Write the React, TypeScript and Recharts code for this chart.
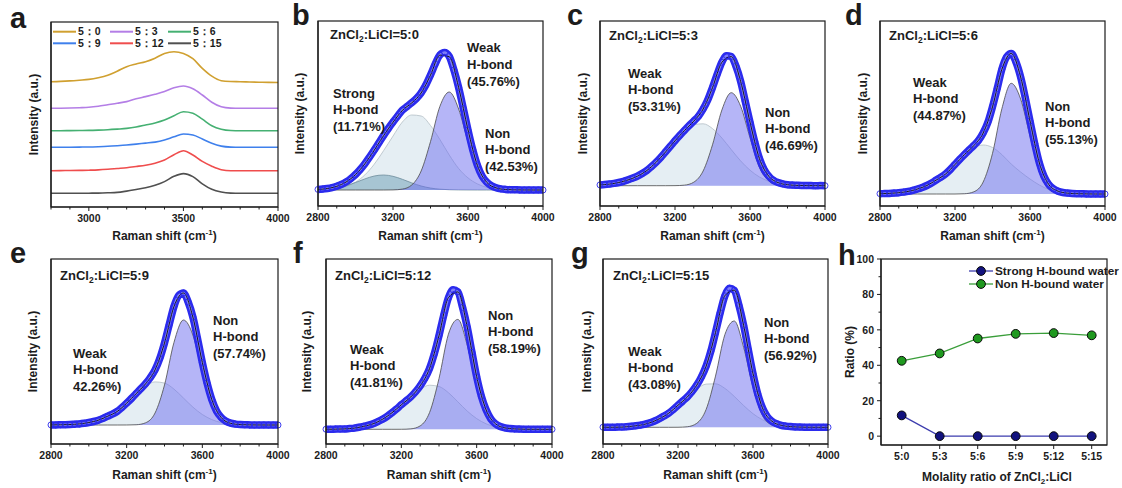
import React from "react";
import { ComposedChart, LineChart, Line, Area, XAxis, YAxis } from "recharts";

const FONT = '"Liberation Sans", Arial, Helvetica, sans-serif';
const INK = "#1c1c1c";
const AXIS = { stroke: "#1c1c1c", strokeWidth: 1.2 };

// Raman shift grids (cm-1)
const SHIFT_50 = [
  2800, 2850, 2900, 2950, 3000, 3050, 3100, 3150, 3200, 3250, 3300, 3350, 3400,
  3450, 3500, 3550, 3600, 3650, 3700, 3750, 3800, 3850, 3900, 3950, 4000,
];
const SHIFT_25 = [
  2800, 2825, 2850, 2875, 2900, 2925, 2950, 2975, 3000, 3025, 3050, 3075, 3100,
  3125, 3150, 3175, 3200, 3225, 3250, 3275, 3300, 3325, 3350, 3375, 3400, 3425,
  3450, 3475, 3500, 3525, 3550, 3575, 3600, 3625, 3650, 3675, 3700, 3725, 3750,
  3775, 3800, 3825, 3850, 3875, 3900, 3925, 3950, 3975, 4000,
];
const SHIFT_TICKS = [2800, 2900, 3000, 3100, 3200, 3300, 3400, 3500, 3600, 3700, 3800, 3900, 4000];
const MAJOR_A = [3000, 3500, 4000];
const MAJOR_FIT = [2800, 3200, 3600, 4000];

// ratio labels and band shares (%)
const RATIO_LABELS = ["5:0", "5:3", "5:6", "5:9", "5:12", "5:15"];
const LEGEND_A = ["5：0", "5：3", "5：6", "5：9", "5：12", "5：15"];
const STRONG_PCT = [11.71, 0, 0, 0, 0, 0];
const WEAK_PCT = [45.76, 53.31, 44.87, 42.26, 41.81, 43.08];
const NON_PCT = [42.53, 46.69, 55.13, 57.74, 58.19, 56.92];
const RATIO_TICKS = [0, 10, 20, 30, 40, 50, 60, 70, 80, 90, 100];
const RATIO_MAJOR = [0, 20, 40, 60, 80, 100];

// (a) stacked spectra, height above each trace's own baseline
const a0 = [0, 0.3, 0.8, 1.5, 2.3, 4, 6.5, 10.5, 15, 17.7, 20, 23.5, 28.3, 30, 28.3, 23, 13.3, 5.5, 1, 0.2, 0, -0.3, -0.5, -0.7, -0.8];
const a3 = [0, 0.1, 0.3, 0.6, 1, 2, 3.5, 5, 6.7, 9.5, 11.7, 14, 16.7, 20.5, 22.3, 19.5, 13.3, 6, 1.5, 0.2, 0, 0, 0, 0, 0];
const a6 = [0, 0, 0.1, 0.2, 0.3, 0.6, 1, 1.6, 2.3, 3.7, 5.7, 7.8, 10.7, 15, 19, 17.5, 11.5, 5, 1.5, 0.2, 0, 0, 0, 0, 0];
const a9 = [0, 0, 0.1, 0.2, 0.3, 0.6, 1, 1.6, 2.3, 3.2, 4.2, 5.2, 7.3, 10.5, 13.3, 12.3, 8.3, 4, 1.2, 0.2, 0, 0, 0, 0, 0];
const a12 = [0, 0.1, 0.2, 0.3, 0.5, 0.8, 1.4, 2.2, 3, 4.2, 5.5, 7.5, 10.7, 16, 20, 15.7, 9.3, 4.5, 1, 0, 0, 0, 0, 0, 0];
const a15 = [0, 0, 0, 0, 0.1, 0.2, 0.5, 0.9, 2.2, 3.8, 5.5, 8, 11.7, 17, 19.7, 16.7, 9.5, 4, 1.3, 0.2, 0, 0, 0, 0, 0];
const A_SPECTRA = [a0, a3, a6, a9, a12, a15];
const A_OFFSETS = [125.3, 98.7, 76.3, 59.7, 36.3, 13.7];
const A_COLORS = ["#d0a030", "#b47ee6", "#45b072", "#3f80ec", "#ef4d4d", "#505050"];

// (b)-(g) measured spectra (every 25 cm-1) and fitted bands (every 50 cm-1)
const bObs = [0.6, 0.9, 1.5, 2.4, 3.8, 5.6, 8.1, 11.4, 15.5, 20.5, 26.3, 33, 40, 47.3, 54.6, 61.5, 67.9, 74, 79.8, 83.5, 87.3, 91.5, 97.2, 105, 115, 126, 135, 137.5, 133.5, 120, 102.5, 81.5, 60, 40.5, 24.8, 14, 7.8, 4.2, 2.2, 1.1, 0.6, 0.3, 0.2, 0.1, 0, 0.1, 0, 0.1, 0];
const bStrong = [0.32, 0.89, 2.13, 4.33, 7.5, 11.1, 14, 15, 13.7, 10.7, 7.1, 4, 1.94, 0.8, 0.28, 0.08, 0.02, 0, 0, 0, 0, 0, 0, 0, 0];
const bWeak = [0.2, 0.58, 1.55, 3.7, 7.9, 15.1, 25.8, 39.4, 53.9, 68, 75, 74, 64.5, 50.5, 35, 21.5, 12.1, 6.1, 2.7, 1.1, 0.4, 0.13, 0.04, 0, 0];
const bNon = [0, 0, 0, 0, 0, 0, 0, 0, 0.1, 0.9, 5, 19, 48.4, 83.6, 98, 81, 48, 18.5, 5, 1, 0.1, 0, 0, 0, 0];

const cObs = [0.8, 1.2, 1.7, 2.3, 3.2, 4.4, 5.9, 7.6, 9.6, 12.2, 15.3, 19.2, 23.6, 28.5, 33.9, 39.4, 45, 50.2, 55.2, 60, 64.6, 69.5, 76.7, 86, 98.2, 111.5, 123.5, 130, 129.2, 119.5, 104.5, 84, 63.5, 44, 27.4, 16.3, 9.6, 5.4, 3.1, 1.8, 1.0, 0.6, 0.4, 0.2, 0.1, 0.1, 0, 0.1, 0];
const cWeak = [0.8, 1.6, 3.2, 5.8, 9.5, 15.2, 23.5, 33.8, 44.8, 54.5, 61, 61.9, 57.1, 47.7, 36.1, 24.8, 15.5, 8.75, 4.48, 2.09, 0.88, 0.34, 0.12, 0.04, 0];
const cNon = [0, 0, 0, 0, 0, 0, 0, 0, 0.06, 0.55, 3.5, 14.7, 40.9, 75.7, 93, 79.5, 48, 18.5, 5, 1, 0.1, 0, 0, 0, 0];

const dObs = [0.3, 0.45, 0.6, 0.9, 1.3, 1.9, 2.6, 3.7, 5, 6.6, 8.5, 11, 14, 16.8, 20.2, 24.5, 29.6, 34.6, 39.4, 44, 48.5, 53.5, 61, 71.5, 87.3, 105.5, 124.8, 137, 140.5, 132, 117, 96, 73, 50.5, 31, 17.5, 9.6, 5.2, 2.8, 1.5, 0.9, 0.5, 0.3, 0.2, 0.1, 0, 0.1, 0, 0];
const dWeak = [0.3, 0.6, 1.3, 2.6, 5, 8.5, 14, 20, 29.5, 39.1, 46.2, 49, 46.5, 39.4, 29.9, 22, 15, 9, 4.5, 2, 0.8, 0.3, 0.1, 0, 0];
const dNon = [0, 0, 0, 0, 0, 0, 0, 0, 0, 0.24, 2.16, 11.9, 40.6, 85.3, 110.7, 95, 58, 22, 5, 0.8, 0.05, 0, 0, 0, 0];

const eObs = [0.1, 0.1, 0.2, 0.3, 0.5, 0.8, 1.1, 1.7, 2.5, 3.5, 4.8, 6.6, 8.8, 11, 13.6, 17.5, 21.9, 26.5, 31.5, 36.3, 41.3, 47.5, 55.2, 66.5, 82, 100.5, 118.5, 129.5, 132, 123, 108, 86, 62.5, 42, 25.5, 14, 7.5, 3.8, 1.8, 0.9, 0.4, 0.2, 0.1, 0, 0, 0.1, 0, 0, 0];
const eWeak = [0.1, 0.2, 0.5, 1.1, 2.5, 4.8, 8.8, 13.5, 21.8, 31.1, 39, 43.1, 41.9, 35.9, 27, 17.9, 10.5, 5.4, 2.43, 0.97, 0.34, 0.1, 0.03, 0, 0];
const eNon = [0, 0, 0, 0, 0, 0, 0, 0, 0.02, 0.25, 2.2, 12, 40, 82.5, 105, 90, 52, 20, 5, 0.7, 0.05, 0, 0, 0, 0];

const fObs = [0.1, 0.1, 0.2, 0.3, 0.4, 0.8, 1.2, 2, 3, 4.1, 5.5, 7.6, 10, 13, 16.5, 20.4, 24.6, 28.4, 32.4, 37.4, 43.5, 51, 61, 75.5, 93.7, 114, 131.5, 139.5, 137.5, 122, 102, 77, 52.5, 33, 19.5, 10.5, 5.5, 2.8, 1.4, 0.7, 0.4, 0.2, 0.1, 0.1, 0, 0, 0.1, 0, 0];
const fWeak = [0.05, 0.15, 0.4, 1.2, 3, 5.5, 10, 16.5, 24.5, 31.9, 40, 44.1, 42.8, 36.6, 27.5, 18.2, 10.7, 5.5, 2.5, 1.0, 0.35, 0.1, 0.03, 0, 0];
const fNon = [0, 0, 0, 0, 0, 0, 0, 0, 0.02, 0.43, 3.4, 16.8, 50.8, 95.1, 109.9, 84, 42, 14, 3, 0.4, 0.05, 0, 0, 0, 0];

const gObs = [0.1, 0.1, 0.1, 0.2, 0.3, 0.6, 1, 1.5, 2.2, 3.2, 4.5, 6.3, 8.6, 11.2, 14.1, 17.8, 22.1, 26.2, 30.5, 35.8, 42.2, 50.5, 61.2, 76, 94.8, 114.5, 131.5, 139, 137, 122, 102, 77.5, 53.5, 33.5, 19.6, 11, 6.2, 3.6, 2, 1.2, 0.7, 0.4, 0.2, 0.1, 0.1, 0, 0, 0.1, 0];
const gWeak = [0.02, 0.06, 0.19, 1, 2.2, 4.5, 8.5, 14, 22, 29.8, 38.1, 43.2, 43.5, 38.9, 30.9, 21.8, 13.6, 7.6, 3.7, 1.64, 0.64, 0.22, 0.07, 0.02, 0];
const gNon = [0, 0, 0, 0, 0, 0, 0, 0, 0.04, 0.56, 4, 17.9, 51.2, 92.7, 106.3, 80, 40, 12, 2.5, 0.4, 0.04, 0, 0, 0, 0];

type Box = { left: number; top: number; width: number; height: number };
type Kind = "strong" | "weak" | "non";
type Note = { x: number; y: number; lines: string[] };

const BAND_STYLE: Record<Kind, { fill: string; fillOpacity: number; stroke: string }> = {
  weak: { fill: "#d3e3eb", fillOpacity: 0.6, stroke: "#b2bec5" },
  strong: { fill: "#5a93ad", fillOpacity: 0.45, stroke: "#6d8c9b" },
  non: { fill: "#6b6bf0", fillOpacity: 0.5, stroke: "#4a4a4a" },
};

const pct = (v: number) => `${v.toFixed(2)}%`;

const FIT_PANELS: {
  letter: string;
  ratio: string;
  box: Box;
  domain: [number, number];
  observed: number[];
  bands: { kind: Kind; values: number[] }[];
  title: [number, number];
  notes: Note[];
}[] = [
  {
    letter: "b", ratio: "5:0", box: { left: 318, top: 21, width: 225, height: 185 }, domain: [-16, 169],
    observed: bObs,
    bands: [{ kind: "weak", values: bWeak }, { kind: "strong", values: bStrong }, { kind: "non", values: bNon }],
    title: [330, 39],
    notes: [
      { x: 333, y: 97.7, lines: ["Strong", "H-bond", `(${pct(STRONG_PCT[0])})`] },
      { x: 467, y: 52.4, lines: ["Weak", "H-bond", `(${pct(WEAK_PCT[0])})`] },
      { x: 485, y: 137.7, lines: ["Non", "H-bond", `(${pct(NON_PCT[0])})`] },
    ],
  },
  {
    letter: "c", ratio: "5:3", box: { left: 600, top: 21, width: 225, height: 185 }, domain: [-20.3, 164.7],
    observed: cObs,
    bands: [{ kind: "weak", values: cWeak }, { kind: "non", values: cNon }],
    title: [609, 39.7],
    notes: [
      { x: 628, y: 77.7, lines: ["Weak", "H-bond", `(${pct(WEAK_PCT[1])})`] },
      { x: 765, y: 116.7, lines: ["Non", "H-bond", `(${pct(NON_PCT[1])})`] },
    ],
  },
  {
    letter: "d", ratio: "5:6", box: { left: 880, top: 21, width: 225, height: 185 }, domain: [-12, 173],
    observed: dObs,
    bands: [{ kind: "weak", values: dWeak }, { kind: "non", values: dNon }],
    title: [889, 39.7],
    notes: [
      { x: 913, y: 86.7, lines: ["Weak", "H-bond", `(${pct(WEAK_PCT[2])})`] },
      { x: 1045, y: 110.7, lines: ["Non", "H-bond", `(${pct(NON_PCT[2])})`] },
    ],
  },
  {
    letter: "e", ratio: "5:9", box: { left: 51, top: 259, width: 227, height: 185 }, domain: [-19, 166],
    observed: eObs,
    bands: [{ kind: "weak", values: eWeak }, { kind: "non", values: eNon }],
    title: [60, 279.7],
    notes: [
      { x: 213, y: 324.7, lines: ["Non", "H-bond", `(${pct(NON_PCT[3])})`] },
      { x: 73, y: 357.7, lines: ["Weak", "H-bond", `${pct(WEAK_PCT[3])})`] },
    ],
  },
  {
    letter: "f", ratio: "5:12", box: { left: 326, top: 259, width: 226, height: 185 }, domain: [-14.7, 170.3],
    observed: fObs,
    bands: [{ kind: "weak", values: fWeak }, { kind: "non", values: fNon }],
    title: [335, 279.7],
    notes: [
      { x: 488, y: 319.7, lines: ["Non", "H-bond", `(${pct(NON_PCT[4])})`] },
      { x: 350, y: 353.7, lines: ["Weak", "H-bond", `(${pct(WEAK_PCT[4])})`] },
    ],
  },
  {
    letter: "g", ratio: "5:15", box: { left: 603, top: 259, width: 225, height: 185 }, domain: [-16.7, 168.3],
    observed: gObs,
    bands: [{ kind: "weak", values: gWeak }, { kind: "non", values: gNon }],
    title: [613, 279.7],
    notes: [
      { x: 764, y: 326.7, lines: ["Non", "H-bond", `(${pct(NON_PCT[5])})`] },
      { x: 628, y: 355.7, lines: ["Weak", "H-bond", `(${pct(WEAK_PCT[5])})`] },
    ],
  },
];

const A_BOX: Box = { left: 51, top: 22, width: 227, height: 185 };
const H_BOX: Box = { left: 881, top: 259, width: 226, height: 186 };

const LETTERS: [string, number, number][] = [
  ["a", 10, 28], ["b", 292, 25], ["c", 567, 25], ["d", 845, 25],
  ["e", 10, 263], ["f", 293, 263], ["g", 571, 263], ["h", 838, 265],
];

const YW = 20;
const XH = 24;
const PAD_R = 16;
const PAD_T = 8;

const bottomTick = (isMajor: (v: any) => boolean) => (p: any) => {
  const v = p.payload.value;
  const major = isMajor(v);
  return (
    <g>
      <line x1={p.x} x2={p.x} y1={p.y} y2={p.y + (major ? 4 : 2.5)} stroke={INK} strokeWidth={1} />
      {major && (
        <text x={p.x} y={p.y + 14.5} textAnchor="middle" fontSize={10.5} fontWeight="bold" fontFamily={FONT} fill={INK}>
          {v}
        </text>
      )}
    </g>
  );
};

const leftTick = (majors: number[]) => (p: any) => {
  const v = p.payload.value;
  const major = majors.includes(v);
  return (
    <g>
      <line x1={p.x - (major ? 4 : 2.5)} x2={p.x} y1={p.y} y2={p.y} stroke={INK} strokeWidth={1} />
      {major && (
        <text x={p.x - 7} y={p.y + 3.8} textAnchor="end" fontSize={10.5} fontWeight="bold" fontFamily={FONT} fill={INK}>
          {v}
        </text>
      )}
    </g>
  );
};

function holder(box: Box, yw: number): React.CSSProperties {
  return { position: "absolute", left: box.left - yw, top: box.top - PAD_T };
}

function StackPanel() {
  const rows = SHIFT_50.map((x, i) => {
    const row: Record<string, number> = { x };
    A_SPECTRA.forEach((s, j) => (row["s" + j] = A_OFFSETS[j] + s[i]));
    return row;
  });
  const box = A_BOX;
  return (
    <div style={holder(box, YW)}>
      <LineChart width={box.width + YW + PAD_R} height={box.height + PAD_T + XH} data={rows} margin={{ top: PAD_T, right: PAD_R, bottom: 0, left: 0 }}>
        <XAxis dataKey="x" type="number" domain={[2800, 4000]} ticks={SHIFT_TICKS} interval={0} height={XH} tickSize={0} tickMargin={0} tickLine={false} axisLine={AXIS} tick={bottomTick((v) => MAJOR_A.includes(v))} />
        <YAxis type="number" domain={[0, 185]} width={YW} tick={false} tickLine={false} axisLine={AXIS} />
        {A_SPECTRA.map((_, j) => (
          <Line key={j} dataKey={"s" + j} type="monotone" stroke={A_COLORS[j]} strokeWidth={1.6} dot={false} activeDot={false} isAnimationActive={false} />
        ))}
      </LineChart>
    </div>
  );
}

function FitPanel({ panel }: { panel: (typeof FIT_PANELS)[number] }) {
  const { box, domain, observed, bands } = panel;
  const rows = SHIFT_25.map((x, i) => {
    const row: Record<string, number> = { x, obs: observed[i] };
    if (i % 2 === 0) {
      let sum = 0;
      bands.forEach((b, j) => {
        row["c" + j] = b.values[i / 2];
        sum += b.values[i / 2];
      });
      row.fit = sum;
    }
    return row;
  });
  return (
    <div style={holder(box, YW)}>
      <ComposedChart width={box.width + YW + PAD_R} height={box.height + PAD_T + XH} data={rows} margin={{ top: PAD_T, right: PAD_R, bottom: 0, left: 0 }}>
        <XAxis dataKey="x" type="number" domain={[2800, 4000]} ticks={SHIFT_TICKS} interval={0} height={XH} tickSize={0} tickMargin={0} tickLine={false} axisLine={AXIS} tick={bottomTick((v) => MAJOR_FIT.includes(v))} />
        <YAxis type="number" domain={domain} width={YW} tick={false} tickLine={false} axisLine={AXIS} allowDataOverflow />
        {bands.map((b, j) => {
          const s = BAND_STYLE[b.kind];
          return (
            <Area key={j} dataKey={"c" + j} type="monotone" connectNulls baseValue={0} fill={s.fill} fillOpacity={s.fillOpacity} stroke={s.stroke} strokeWidth={0.8} dot={false} activeDot={false} isAnimationActive={false} />
          );
        })}
        <Line dataKey="obs" type="monotone" stroke="#2c2cee" strokeWidth={7.5} dot={false} activeDot={false} isAnimationActive={false} />
        <Line dataKey="obs" type="monotone" stroke="#7d7df8" strokeWidth={2.4} dot={false} activeDot={false} isAnimationActive={false} />
        <Line dataKey="obs" type="monotone" stroke="none" dot={{ r: 3, fill: "none", stroke: "#2a2aec", strokeWidth: 0.9 }} activeDot={false} isAnimationActive={false} />
        <Line dataKey="fit" type="monotone" connectNulls stroke="#1a1a1a" strokeWidth={1} dot={false} activeDot={false} isAnimationActive={false} />
      </ComposedChart>
    </div>
  );
}

function RatioPanel() {
  const rows = RATIO_LABELS.map((r, i) => ({ ratio: r, strong: STRONG_PCT[i], non: NON_PCT[i] }));
  const box = H_BOX;
  const yw = 34;
  return (
    <div style={holder(box, yw)}>
      <LineChart width={box.width + yw + PAD_R} height={box.height + PAD_T + XH} data={rows} margin={{ top: PAD_T, right: PAD_R, bottom: 0, left: 0 }}>
        <XAxis dataKey="ratio" type="category" padding={{ left: 20.7, right: 15.3 }} interval={0} height={XH} tickSize={0} tickMargin={0} tickLine={false} axisLine={AXIS} tick={bottomTick(() => true)} />
        <YAxis type="number" domain={[-5, 100]} ticks={RATIO_TICKS} interval={0} width={yw} tickSize={0} tickMargin={0} tickLine={false} axisLine={AXIS} tick={leftTick(RATIO_MAJOR)} />
        <Line dataKey="strong" stroke="#3d3dae" strokeWidth={1.3} dot={{ r: 4.4, fill: "#12127e", stroke: "#0a0a0a", strokeWidth: 1 }} activeDot={false} isAnimationActive={false} />
        <Line dataKey="non" stroke="#3a9e3a" strokeWidth={1.3} dot={{ r: 4.4, fill: "#1f991f", stroke: "#0a0a0a", strokeWidth: 1 }} activeDot={false} isAnimationActive={false} />
      </LineChart>
    </div>
  );
}

function RamanTitle({ cx, y }: { cx: number; y: number }) {
  return (
    <text x={cx} y={y} textAnchor="middle" fontSize={12}>
      <tspan>Raman shift (cm</tspan>
      <tspan fontSize={8} dy={-5}>-1</tspan>
      <tspan dy={5}>)</tspan>
    </text>
  );
}

function VTitle({ cx, cy, text }: { cx: number; cy: number; text: string }) {
  return (
    <text x={cx} y={cy + 4.3} textAnchor="middle" fontSize={12} transform={`rotate(-90 ${cx} ${cy})`}>
      {text}
    </text>
  );
}

function Overlay() {
  const specBoxes = [A_BOX, ...FIT_PANELS.map((p) => p.box)];
  const yTitleX = [34, 300, 583, 863, 33, 307, 587];
  return (
    <svg width={1122} height={488} style={{ position: "absolute", left: 0, top: 0, pointerEvents: "none" }} fontFamily={FONT} fontWeight="bold" fill={INK}>
      {[...specBoxes, H_BOX].map((b, i) => (
        <rect key={"frame" + i} x={b.left} y={b.top} width={b.width} height={b.height} fill="none" stroke={AXIS.stroke} strokeWidth={AXIS.strokeWidth} />
      ))}
      {LETTERS.map(([t, x, y]) => (
        <text key={t} x={x} y={y} fontSize={29}>{t}</text>
      ))}
      {specBoxes.map((b, i) => (
        <g key={i}>
          <RamanTitle cx={b.left + b.width / 2} y={b.top < 100 ? 240 : 479} />
          <VTitle cx={yTitleX[i]} cy={b.top + b.height / 2} text="Intensity (a.u.)" />
        </g>
      ))}
      {FIT_PANELS.map((p) => (
        <g key={p.letter}>
          <text x={p.title[0]} y={p.title[1]} fontSize={13}>
            <tspan>ZnCl</tspan>
            <tspan fontSize={8.5} dy={3}>2</tspan>
            <tspan dy={-3}>{`:LiCl=${p.ratio}`}</tspan>
          </text>
          {p.notes.map((n, k) => (
            <text key={k} x={n.x} y={n.y} fontSize={13}>
              {n.lines.map((l, m) => (
                <tspan key={m} x={n.x} dy={m === 0 ? 0 : 16.7}>{l}</tspan>
              ))}
            </text>
          ))}
        </g>
      ))}
      {LEGEND_A.map((t, i) => {
        const col = i % 3;
        const y = i < 3 ? 31.7 : 43.3;
        const x0 = [53, 110, 168][col];
        return (
          <g key={t}>
            <line x1={x0} x2={x0 + 23} y1={y} y2={y} stroke={A_COLORS[i]} strokeWidth={2} />
            <text x={x0 + 25} y={y + 3.7} fontSize={10.5}>{t}</text>
          </g>
        );
      })}
      {/* panel h */}
      <VTitle cx={850} cy={H_BOX.top + H_BOX.height / 2} text="Ratio (%)" />
      <text x={997} y={481} textAnchor="middle" fontSize={12}>
        <tspan>Molality ratio of ZnCl</tspan>
        <tspan fontSize={8} dy={3}>2</tspan>
        <tspan dy={-3}>:LiCl</tspan>
      </text>
      {[
        { y: 271, label: "Strong H-bound water", line: "#3d3dae", dot: "#12127e" },
        { y: 284, label: "Non H-bound water", line: "#3a9e3a", dot: "#1f991f" },
      ].map((e) => (
        <g key={e.label}>
          <line x1={969} x2={993} y1={e.y} y2={e.y} stroke={e.line} strokeWidth={1.3} />
          <circle cx={981} cy={e.y} r={4.4} fill={e.dot} stroke="#0a0a0a" strokeWidth={1} />
          <text x={995} y={e.y + 4} fontSize={11.8}>{e.label}</text>
        </g>
      ))}
    </svg>
  );
}

export default function App() {
  return (
    <div style={{ position: "absolute", left: 0, top: 0, width: 1122, height: 488, background: "#fff", overflow: "hidden", fontFamily: FONT }}>
      <StackPanel />
      {FIT_PANELS.map((p) => (
        <FitPanel key={p.letter} panel={p} />
      ))}
      <RatioPanel />
      <Overlay />
    </div>
  );
}
